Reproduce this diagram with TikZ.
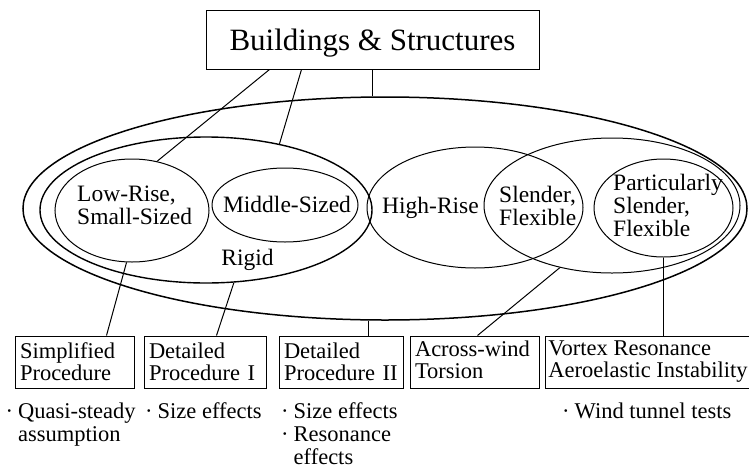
\documentclass[tikz,border=0pt]{standalone}
\usepackage{fontspec}
\setmainfont{Liberation Serif}
\usetikzlibrary{shapes.geometric,calc}

\tikzset{
  box/.style={draw,line width=1pt,minimum height=52pt,inner xsep=5pt,inner ysep=0pt,
    align=left,font=\fontsize{22.5}{22}\selectfont},
  item/.style={anchor=north west,inner sep=0pt,align=left,font=\fontsize{22.5}{23}\selectfont}
}
\newcommand{\bul}{·\kern5pt}

\begin{document}
\begin{tikzpicture}[x=1pt,y=-1pt]
\useasboundingbox (0,0) rectangle (749,469);

\node[draw,line width=1pt,minimum width=333pt,minimum height=59pt,text depth=0pt,
  font=\fontsize{31}{31}\selectfont] (BS) at (372.5,39.5) {Buildings \& Structures};

\begin{scope}[every node/.style={ellipse,draw,inner sep=0pt,line width=1pt}]
	\node[line width=1.5pt,minimum width=724pt,minimum height=223pt] (OUT) at (385,208.5) {};
	\node[line width=1.4pt,minimum width=332pt,minimum height=146pt] (RG) at (206,210) {};
	\node[minimum width=154pt,minimum height=103pt] (LR) at (132,210.5) {};
	\node[minimum width=146pt,minimum height=74pt] (MS) at (285,205) {};
	\node[minimum width=216pt,minimum height=121pt] (HR) at (475,207.5) {};
	\node[minimum width=256pt,minimum height=135pt] (FX) at (612,205.5) {};
	\node[minimum width=139pt,minimum height=98pt] (PS) at (663.5,208) {};
\end{scope}

\begin{scope}[every node/.style={inner sep=0pt,align=left,font=\fontsize{23.5}{23}\selectfont}]
	\node[anchor=west] (LRt) at (77,205.5) {Low-Rise,\\Small-Sized};
	\node[anchor=base] (MSt) at (287,212) {Middle-Sized};
	\node[anchor=base] (RGt) at (247.5,265) {Rigid};
	\node[anchor=base] (HRt) at (430.5,213) {High-Rise};
	\node[anchor=west] (SFt) at (499,206) {Slender,\\Flexible};
	\node[anchor=west] (PSt) at (613,205) {Particularly\\Slender,\\Flexible};
\end{scope}

\node[box,text width=109pt] (SP) at (74.5,362) {Simplified\\Procedure};
\node[box,text width=112pt] (D1) at (205,362) {Detailed\\Procedure I};
\node[box,text width=114pt] (D2) at (341,362) {Detailed\\Procedure II};
\node[box,text width=119pt] (AW) at (474.5,362) {Across-wind\\Torsion\vphantom{p}};
\node[box,minimum width=206pt,inner xsep=3pt] (VR) at (648,362) {Vortex Resonance\\Aeroelastic Instability};

\node[item] (QS) at (5.5,402.6) {\bul Quasi-steady\\\phantom{\bul}assumption};
\node[item] (SE1) at (145,402.6) {\bul Size effects};
\node[item] (SE2) at (281,402.6) {\bul Size effects\\\bul Resonance\\\phantom{\bul}effects};
\node[item] (WT) at (562,402.6) {\bul Wind tunnel tests};

\coordinate (t1) at ($(BS.south west)+(64,0)$);
\coordinate (t2) at ($(BS.south west)+(96,0)$);
\coordinate (s1) at ($(SP.north west)+(92,0)$);
\coordinate (d1) at ($(D1.north west)+(73,0)$);
\coordinate (d2) at ($(D2.north west)+(90,0)$);
\coordinate (a1) at ($(AW.north west)+(68,0)$);

\begin{scope}[every edge/.style={draw=black,line width=1pt}]
	\path (t1) edge (LR.63);
	\path (t2) edge (RG.42);
	\path (BS.south) edge (BS.south |- OUT.north);
	\path (LR.264) edge (s1);
	\path (RG.291) edge (d1);
	\path (d2) edge (d2 |- OUT.south);
	\path (FX.230) edge (a1);
	\path (PS.south) edge (PS.south |- VR.north);
\end{scope}
\end{tikzpicture}
\end{document}
